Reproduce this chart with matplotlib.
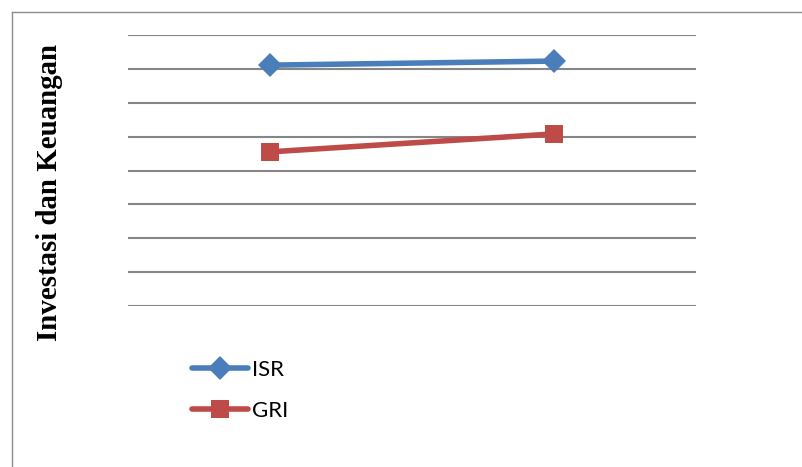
import matplotlib
matplotlib.use("Agg")
import matplotlib.pyplot as plt
from matplotlib.lines import Line2D

# Data
periods = [0, 1]
series_names = ["ISR", "GRI"]
isr_values = [7.11, 7.23]
gri_values = [4.55, 5.08]
y_label = "Investasi dan Keuangan"

W, H = 803, 467
fig = plt.figure(figsize=(W / 100, H / 100), dpi=100)
fig.patch.set_facecolor("white")

# Outer chart frame: left and top edges only
frame_kw = dict(transform=fig.transFigure, color="#8c8c8c", linewidth=1.0)
fig.lines.append(Line2D([12.5 / W, 12.5 / W], [0, 1 - 11.5 / H], **frame_kw))
fig.lines.append(Line2D([12.5 / W, 1], [1 - 11.5 / H, 1 - 11.5 / H], **frame_kw))

left, right, top, bottom = 128, 696, 35, 306
ax = fig.add_axes([left / W, 1 - bottom / H, (right - left) / W, (bottom - top) / H])
ax.set_xlim(-0.5, 1.5)
ax.set_ylim(0, 8)
ax.set_yticks(range(0, 9))
ax.set_xticks([])
ax.tick_params(axis="y", length=0, labelleft=False)
for s in ax.spines.values():
    s.set_visible(False)
ax.grid(axis="y", color="#868686", linewidth=1.5)
ax.set_axisbelow(True)
ax.patch.set_alpha(0)

l1, = ax.plot(periods, isr_values, color="#4A7EBB", linewidth=4.0, marker="D",
              markersize=12.5, markeredgewidth=0, label=series_names[0],
              solid_capstyle="round", clip_on=False)
l2, = ax.plot(periods, gri_values, color="#BE4B48", linewidth=4.0, marker="s",
              markersize=13.5, markeredgewidth=0, label=series_names[1],
              solid_capstyle="round", clip_on=False)

fig.text(50 / W, 1 - 192.5 / H, y_label, rotation=90, ha="center", va="center",
         family="Liberation Serif", fontweight="bold", fontsize=20.8)

leg = fig.legend(handles=[l1, l2], loc="upper left",
                 bbox_to_anchor=(192 / W, 1 - 360 / H), frameon=False,
                 prop={"family": "Lato", "size": 16}, handlelength=2.5,
                 handletextpad=0.18, labelspacing=0.94, borderpad=0,
                 borderaxespad=0)

fig.savefig("out.png", dpi=100)
